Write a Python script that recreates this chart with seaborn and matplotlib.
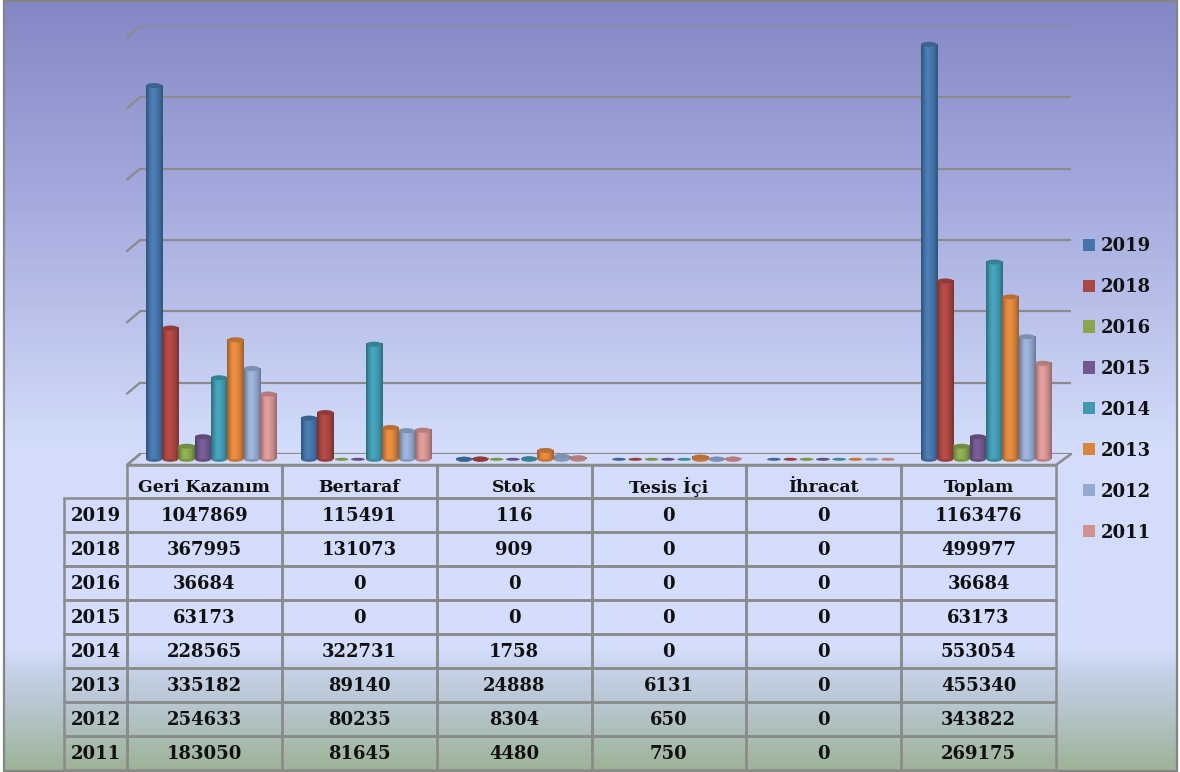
import numpy as np
import pandas as pd
import matplotlib
matplotlib.use("Agg")
import matplotlib.pyplot as plt
import seaborn as sns
from matplotlib.colors import LinearSegmentedColormap, to_rgb
from matplotlib.patches import Ellipse, Rectangle
from matplotlib.transforms import Affine2D

categories = ["Geri Kazanım", "Bertaraf", "Stok", "Tesis İçi", "İhracat", "Toplam"]
years = ["2019", "2018", "2016", "2015", "2014", "2013", "2012", "2011"]
v2019 = [1047869, 115491, 116, 0, 0, 1163476]
v2018 = [367995, 131073, 909, 0, 0, 499977]
v2016 = [36684, 0, 0, 0, 0, 36684]
v2015 = [63173, 0, 0, 0, 0, 63173]
v2014 = [228565, 322731, 1758, 0, 0, 553054]
v2013 = [335182, 89140, 24888, 6131, 0, 455340]
v2012 = [254633, 80235, 8304, 650, 0, 343822]
v2011 = [183050, 81645, 4480, 750, 0, 269175]
series = [v2019, v2018, v2016, v2015, v2014, v2013, v2012, v2011]
colors = ["#4674A9", "#AA4643", "#89A54E", "#71588F", "#4198AF", "#DB843D", "#93A9CF", "#D19392"]

W, H = 1180, 772
GRID = "#8b8b8b"
FONT = "DejaVu Serif"
TXT = "#101010"
sns.set_theme(style="white", rc={"font.family": FONT})
fig = plt.figure(figsize=(W / 100, H / 100), dpi=100, facecolor="white")


def axes_px(l, t, r, b, **kw):
    return fig.add_axes([l / W, 1 - b / H, (r - l) / W, (b - t) / H], **kw)


# Backdrop, border and the 3D floor, in pixel coordinates
deco = axes_px(0, 0, W, H, zorder=0)
deco.set_xlim(0, W)
deco.set_ylim(H, 0)
deco.axis("off")
stops = [(0, "#8487C5"), (0.26, "#A5ABDD"), (0.58, "#D3DDFB"), (0.84, "#D5DFFD"),
         (0.875, "#C3D0E6"), (0.93, "#B3C3C8"), (1, "#9DB396")]
cmap = LinearSegmentedColormap.from_list("bg", stops)
deco.imshow(np.linspace(0, 1, 256)[:, None], cmap=cmap, aspect="auto", extent=(4, 1177, 771, 1), zorder=0)
deco.add_patch(Rectangle((4, 1), 1173, 770, fill=False, ec="#858585", lw=1.6, zorder=1))
deco.set_xlim(0, W)
deco.set_ylim(H, 0)

# Back wall gridlines
back = axes_px(140, 26, 1071, 454, zorder=1)
back.patch.set_alpha(0)
back.set_ylim(0, 1200000)
back.set_yticks(np.arange(0, 1200001, 200000))
back.set_xticks([])
back.set_yticklabels([])
back.grid(axis="y", color=GRID, lw=1.6)
back.tick_params(left=False)
for s in back.spines.values():
    s.set_visible(False)
for t in back.get_yticks():
    y = 454 - t * 428 / 1200000
    deco.plot([127, 140], [y + 11, y], color=GRID, lw=1.6, solid_capstyle="round", zorder=2)
deco.plot([140, 127, 1056, 1071], [454, 465, 465, 454], color=GRID, lw=1.8, zorder=2)

# Bars
df = pd.DataFrame(
    [{"Kategori": c, "Yıl": y, "Değer": s[i]} for y, s in zip(years, series) for i, c in enumerate(categories)]
)
BASE = 459.3
ax = axes_px(127, 20, 1071, BASE, zorder=3)
ax.patch.set_alpha(0)
sns.barplot(data=df, x="Kategori", y="Değer", hue="Yıl", hue_order=years, order=categories,
            palette=colors, saturation=1, width=0.84, gap=0, ax=ax, errorbar=None)
handles, labels = ax.get_legend_handles_labels()
ax.get_legend().remove()
XL = (-84 / 155, 860 / 155)
YL = (0, (BASE - 20) / (428 / 1200000))
per_px = YL[1] / (BASE - 20)
profile = np.array([0.74, 0.84, 0.94, 1.02, 1.07, 1.09, 1.07, 1.04, 1.0, 0.96, 0.9, 0.82, 0.74])
for cont, col in zip(ax.containers, colors):
    rgb = np.array(to_rgb(col))
    for b in cont:
        x, w, h = b.get_x(), b.get_width(), b.get_height()
        b.set_alpha(0)
        cx = x + w / 2
        if h > 0:
            img = np.clip(rgb[None, None, :] * profile[None, :, None], 0, 1)
            ax.add_patch(Ellipse((cx, 0), w * 0.98, 5 * per_px, fc=rgb * 0.9, ec="none", zorder=3, clip_on=False))
            ax.imshow(img, extent=(x, x + w, 0, h), aspect="auto", interpolation="bilinear", zorder=4)
            ax.add_patch(Ellipse((cx, h), w * 0.98, 5 * per_px, fc=rgb * 0.85, ec="none", zorder=5, clip_on=False))
        else:
            ax.add_patch(Ellipse((cx, 0), w * 0.85, 3 * per_px, fc=rgb * 0.9, ec="none", zorder=5, clip_on=False))
ax.set_xlim(*XL)
ax.set_ylim(*YL)
ax.axis("off")

# Data table
tab = axes_px(64, 465, 1056, 770, zorder=2)
tab.axis("off")
cells = [[""] + categories] + [[y] + [str(v) for v in s] for y, s in zip(years, series)]
table = tab.table(cellText=cells, cellLoc="center", colWidths=[63 / 992] + [154.83 / 992] * 6, bbox=[0, 0, 1, 1])
table.auto_set_font_size(False)
for (r, c), cell in table.get_celld().items():
    cell.set_facecolor("none")
    cell.set_edgecolor(GRID)
    cell.set_linewidth(1.8)
    cell.set_height((33 if r == 0 else 34.0) / 305)
    txt = cell.get_text()
    txt.set_fontweight("bold")
    txt.set_fontfamily(FONT)
    txt.set_color(TXT)
    txt.set_fontsize(12.4 if r == 0 else 13)
    txt.set_transform(Affine2D().translate(0, -6 if r == 0 else -1))
    if r == 0 and c == 0:
        cell.visible_edges = ""

# Legend
for h_ in handles:
    h_.set_edgecolor("none")
fig.legend(handles, labels, loc="upper left", bbox_to_anchor=(1083 / W, 1 - 237 / H), frameon=False,
           borderpad=0, borderaxespad=0, handlelength=0.66, handleheight=0.66, handletextpad=0.3,
           labelspacing=1.27, prop={"family": FONT, "weight": "bold", "size": 13}, labelcolor=TXT)

fig.savefig("out.png", dpi=100, facecolor="white")
